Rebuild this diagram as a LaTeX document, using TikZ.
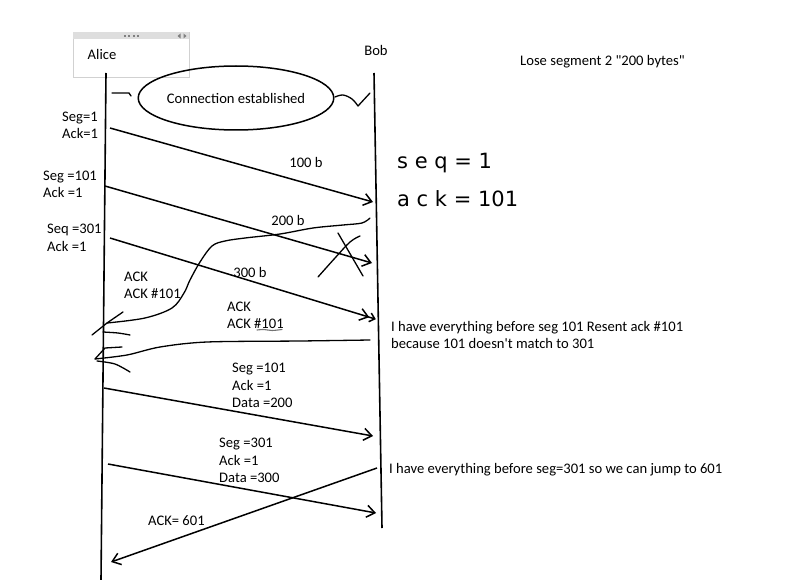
\documentclass[tikz,border=0pt]{standalone}
\usepackage{fontspec}
\setmainfont{Carlito}
\newfontfamily\handfont{DejaVu Sans}
\usetikzlibrary{arrows.meta,shapes.geometric}
\begin{document}
\begin{tikzpicture}[x=1pt,y=-1pt,
  txt/.style={font=\fontsize{14.6}{17.4}\selectfont, inner sep=0pt, align=left, anchor=west},
  life/.style={line width=1.6pt},
  msg/.style={line width=1.5pt, -{Straight Barb[length=8pt,width=12pt]}},
  hand/.style={line width=1.3pt, line cap=round, line join=round},
  handtxt/.style={font=\handfont\fontsize{21}{30}\selectfont, inner sep=0pt, anchor=west}
]
\useasboundingbox (0,0) rectangle (786,580);

% Alice window box
\node[draw=black!18, line width=0.8pt, minimum width=116pt, minimum height=45pt, inner sep=0pt] (abox) at (131,54.5) {};
\fill[black!13] (73.4,32.4) rectangle (188.6,39);
\foreach \i/\xx in {1/125,2/129.3,3/133.6,4/137.9}
  \fill[black!50] (\xx-1,35) rectangle (\xx+1,37.2);
\fill[black!50] (177.5,36) -- (180.5,33.5) -- (180.5,38.5) -- cycle;
\fill[black!50] (186.5,36) -- (183.5,33.5) -- (183.5,38.5) -- cycle;
\node[txt, anchor=center] (alice) at (102,54) {Alice};
\node[txt, anchor=center] (bob) at (376,50) {Bob};
\node[txt] (lose) at (520,62) {Lose segment 2 \textquotedbl 200 bytes\textquotedbl};

% lifelines
\coordinate (atop) at (106,73);
\coordinate (abot) at (101,580);
\coordinate (btop) at (374,73);
\coordinate (bbot) at (382,528);
\draw[life] (atop) -- (abot);
\draw[life] (btop) -- (bbot);

% connection established
\node[draw, ellipse, line width=1.5pt, minimum width=195pt, minimum height=64pt, inner sep=0pt, font=\fontsize{14.6}{17.4}\selectfont] (conn) at (236,98) {Connection established};
\draw[hand] (112,93) -- (129,93) -- (131,96);
\draw[hand] plot[smooth, tension=0.6] coordinates {(335,97) (343,95) (352,99) (358,106)};
\draw[hand] (358,106) -- (370,93);

% left labels
\node[txt] (l1) at (62,125.5) {Seg=1\\Ack=1};
\node[txt] (l2) at (43,184.5) {Seg =101\\Ack =1};
\node[txt] (l3) at (47,238) {Seq =301\\Ack =1};

% segments
\coordinate (m1s) at (110,128); \coordinate (m1e) at (373,202);
\coordinate (m2s) at (105,186); \coordinate (m2e) at (372,263);
\coordinate (m3s) at (110,238); \coordinate (m3e) at (372,318);
\draw[msg] (m1s) -- (m1e);
\draw[msg] (m2s) -- (m2e);
\draw[line width=1.5pt, -{Straight Barb[length=8pt,width=12pt] Straight Barb[length=5pt,width=9pt,sep=-4pt]}] (m3s) -- (m3e);
\node[txt, anchor=center] (b100) at (306,162) {100 b};
\node[txt, anchor=center] (b200) at (288,220) {200 b};
\node[txt, anchor=center] (b300) at (250,272) {300 b};

% lost mark X
\draw[hand] (338,233) -- (363,276);
\draw[hand] plot[smooth, tension=0.6] coordinates {(360,236) (350,242) (335,258) (318,277)};

% handwritten first ACK curve
\draw[hand] plot[smooth, tension=0.55] coordinates {(370,218) (362,223) (343,225) (313,228) (280,234) (245,238) (225,241) (212,246) (200,262) (190,280) (184,293) (172,308) (145,318) (107,323)};
\draw[hand] (123,312) -- (107,323) -- (92,335);
\draw[hand] plot[smooth] coordinates {(103,332) (118,333) (130,335)};

% handwritten second ACK
\draw[hand] plot[smooth, tension=0.5] coordinates {(370,340) (300,341) (207,342) (160,347) (127,355) (95,359)};
\draw[hand] (122,347) -- (105,348) -- (95,359);
\draw[hand] plot[smooth] coordinates {(97,361) (115,364) (130,372)};

\node[txt] (ack1) at (124,285.5) {ACK\\ACK \#101};
\node[txt] (ack2) at (227,315.5) {ACK\\ACK \#101};
\draw[black!55, line width=1.1pt, line cap=round] plot[smooth] coordinates {(257,330) (264,329.5) (272,330.5) (282,329.5)};

% handwritten note
\node[handtxt] (hs) at (397,163) {s e q = 1};
\node[handtxt] (ha) at (397,199) {a c k = 101};

% right notes
\node[txt] (n1) at (391,335) {I have everything before seg 101 Resent ack \#101\\because 101 doesn\textquotesingle t match to 301};
\node[txt] (n2) at (389,470) {I have everything before seg=301 so we can jump to 601};

% retransmission
\node[txt] (l4) at (232,385.5) {Seg =101\\Ack =1\\Data =200};
\coordinate (m4s) at (104,388); \coordinate (m4e) at (373,436);
\draw[msg] (m4s) -- (m4e);
\node[txt] (l5) at (219,460.5) {Seg =301\\Ack =1\\Data =300};
\coordinate (m5s) at (108,464); \coordinate (m5e) at (376,513);
\draw[msg] (m5s) -- (m5e);
\coordinate (m6s) at (377,468); \coordinate (m6e) at (111,562);
\draw[msg] (m6s) -- (m6e);
\node[txt] (a601) at (148,521) {ACK= 601};
\end{tikzpicture}
\end{document}
